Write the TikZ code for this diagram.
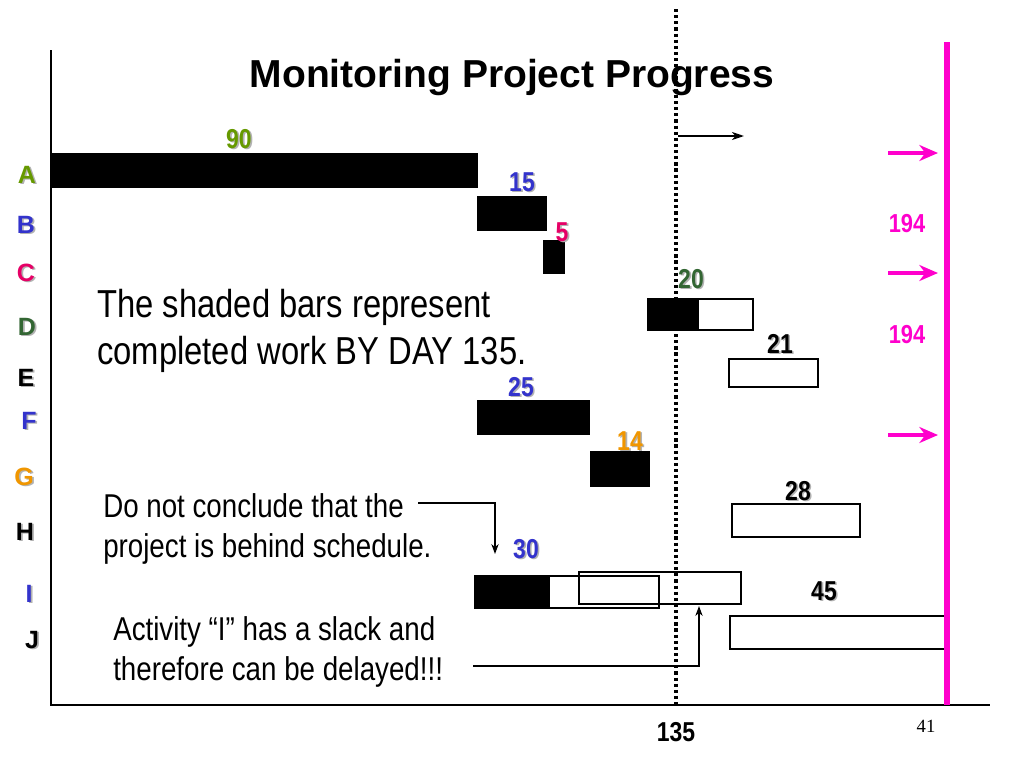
\documentclass[tikz,border=0pt]{standalone}
\usepackage{fontspec}
\setmainfont{Liberation Sans}
\newfontfamily\narrowsf[FakeStretch=0.84]{Liberation Sans}
\newfontfamily\pagenumfont{Liberation Serif}
\usetikzlibrary{arrows.meta}

\definecolor{actgreen}{RGB}{102,153,0}
\definecolor{actblue}{RGB}{51,51,204}
\definecolor{actred}{RGB}{230,0,102}
\definecolor{actdkgreen}{RGB}{51,102,51}
\definecolor{actorange}{RGB}{240,150,0}
\definecolor{limitpink}{RGB}{255,0,204}

% letters with a soft grey drop shadow
\newcommand{\shd}[1]{\rlap{\kern1.3pt\raisebox{-1.3pt}{\textcolor{black!30}{#1}}}#1}

\tikzset{
  rowlbl/.style={font=\bfseries\fontsize{18.75}{20}\selectfont, anchor=base, inner sep=0pt},
  durlbl/.style={font=\narrowsf\bfseries\fontsize{20.5}{22}\selectfont, anchor=base, inner sep=0pt},
  limitlbl/.style={font=\narrowsf\bfseries\fontsize{19.5}{20}\selectfont, anchor=base, inner sep=0pt, text=limitpink},
  bignote/.style={font=\narrowsf\fontsize{29.25}{35}\selectfont, align=left, anchor=north west, inner sep=0pt},
  smallnote/.style={font=\narrowsf\fontsize{24.75}{30}\selectfont, align=left, anchor=north west, inner sep=0pt},
  done/.style={fill=black, draw=black, line width=1pt},
  todo/.style={draw=black, line width=1pt},
  callout/.style={line width=0.9pt, -{Stealth[length=7.5pt,width=5.5pt]}},
  pinkarr/.style={limitpink, line width=3pt, -{Stealth[length=14pt,width=12pt,inset=4.5pt]}}
}

\begin{document}
\begin{tikzpicture}[x=0.75pt,y=0.75pt,yscale=-1]
\useasboundingbox (0,0) rectangle (1024,768);

%Axes
\draw [line width=1pt] (51,50) -- (51,705) -- (990,705);

% Title
\node [font=\bfseries\fontsize{29.25}{32}\selectfont, anchor=base] (title) at (512,87) {Monitoring Project Progress};

% Activity letters
\foreach \r/\c/\x/\y in {A/actgreen/27/183, B/actblue/26/233, C/actred/26/281, D/actdkgreen/27/335, E/black/26/386, F/actblue/29/429, G/actorange/24/485, H/black/25/540, I/actblue/29/602, J/black/32/648}
  \node [rowlbl, text=\c] (row\r) at (\x,\y) {\shd{\r}};

%Shape: Bars done
\draw [done] (51,154) rectangle (477,187);
\draw [done] (478,197) rectangle (546,230);
\draw [done] (544,241) rectangle (564,273);
\draw [done] (648,299) rectangle (698,330);
\draw [done] (478,401) rectangle (589,434);
\draw [done] (591,452) rectangle (649,486);
\draw [done] (475,576) rectangle (549,608);
%Shape: Bars still to do
\draw [todo] (648,299) rectangle (753,330);
\draw [todo] (729,359) rectangle (818,387);
\draw [todo] (732,504) rectangle (860,537);
\draw [todo] (475,576) rectangle (659,608);
\draw [todo] (579,572) rectangle (741,604);
\draw [todo] (730,616) rectangle (945,649);

% Durations
\foreach \n/\c/\x/\y in {90/actgreen/239/148, 15/actblue/522/191, 5/actred/562/241, 20/actdkgreen/691/288, 21/black/780/353, 25/actblue/521/396, 14/actorange/630/450, 28/black/798/500, 30/actblue/526/558, 45/black/824/600}
  \node [durlbl, text=\c] (dur\n) at (\x,\y) {\shd{\n}};

\node [limitlbl] (endB) at (907,232) {194};
\node [limitlbl] (endD) at (907,343) {194};

% Day 135 line
\draw [line width=2.6pt, dash pattern=on 2.4pt off 2.2pt] (676,9) -- (676,705);
\coordinate (now) at (678,136);
\coordinate (ahead) at (744,136);
\draw [line width=1.5pt, -{Stealth[length=9pt,width=6pt,inset=2.5pt]}] (now) -- (ahead);
\node [durlbl, font=\narrowsf\bfseries\fontsize{20.5}{22}\selectfont] (day) at (676,741) {135};

% Finish line
\draw [limitpink, line width=3.8pt] (947,42) -- (947,705);
\foreach \y in {153,273,435}{
  \coordinate (pin\y) at (888,\y);
  \coordinate (pout\y) at (938,\y);
  \draw [pinkarr] (pin\y) -- (pout\y);
}

% Notes
\node [bignote] (shaded) at (97,289) {The shaded bars represent\\completed work BY DAY 135.};
\node [smallnote] (behind) at (103,493) {Do not conclude that the\\project is behind schedule.};
\node [smallnote] (slack) at (113,616) {Activity “I” has a slack and\\therefore can be delayed!!!};

\coordinate (behindR) at (418,503);
\coordinate (barI) at (495,554);
\draw [callout] (behindR) -| (barI);
\coordinate (slackR) at (473,666);
\coordinate (barIb) at (699,606);
\draw [callout] (slackR) -| (barIb);

% Page number
\node [font=\pagenumfont\fontsize{14}{16}\selectfont, anchor=base] (page) at (926,732) {41};

\end{tikzpicture}
\end{document}
